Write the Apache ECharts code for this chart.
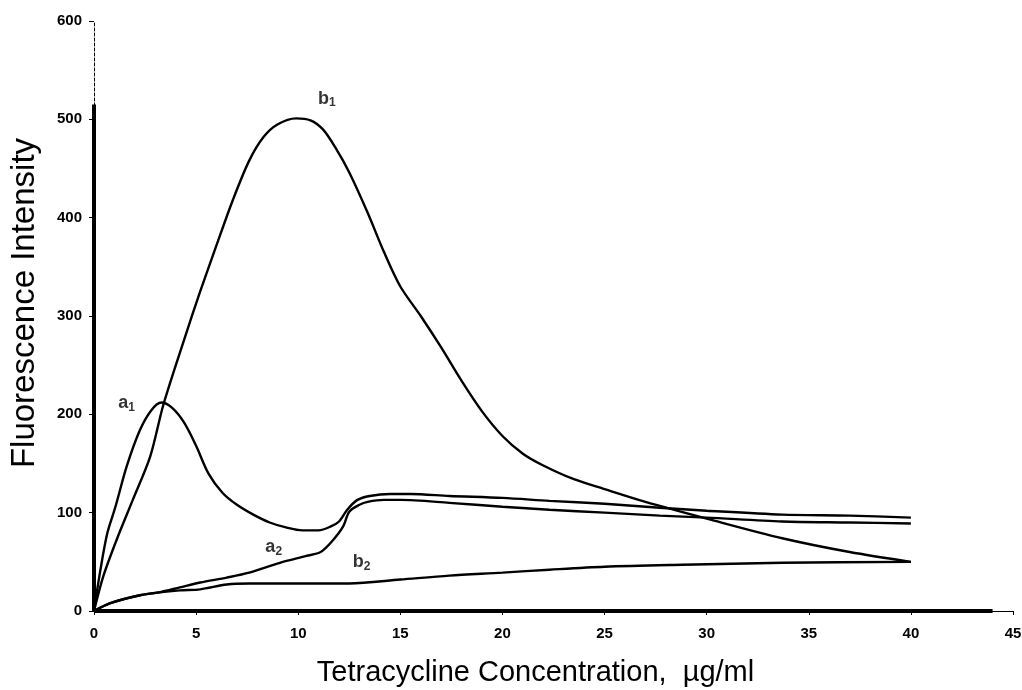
<!DOCTYPE html>
<html>
<head>
<meta charset="utf-8">
<script src="https://cdn.jsdelivr.net/npm/echarts@6/dist/echarts.min.js"></script>
<style>html,body{margin:0;padding:0;background:#fff}#c{width:1022px;height:690px}</style>
</head>
<body>
<div id="c"></div>
<script>
// ---- data ----
const xTicks = [0, 5, 10, 15, 20, 25, 30, 35, 40, 45];
const yTicks = [0, 100, 200, 300, 400, 500, 600];

const a1X = [0, 0.3, 0.65, 1.05, 1.6, 2.25, 2.8, 3.3, 3.8, 4.4, 5.0, 5.6, 6.3, 7.0, 7.8, 8.6, 9.4, 10.2, 11.0, 11.6, 12.0, 12.4, 12.9, 13.5, 14.5, 15.5, 17.4, 20, 22.3, 25, 27.7, 30, 33.7, 37, 40];
const a1Y = [0, 40, 79, 106, 147, 184, 204, 212, 207, 192, 168, 140, 120, 108, 98, 90, 85, 82, 82, 86, 91, 103, 113, 117, 119, 119, 117, 115, 112, 109, 105, 102, 98, 97, 95];

const a2X = [0, 0.8, 2.25, 3.2, 4.2, 5.2, 6.5, 7.6, 9.1, 10.4, 11.1, 11.7, 12.2, 12.5, 13.0, 13.4, 14.2, 15, 17.4, 20, 22.3, 25, 27.7, 30, 33.7, 37, 40];
const a2Y = [0, 8, 16, 19, 24, 29, 34, 39, 49, 56, 60, 72, 86, 101, 108, 111, 113, 113, 110, 106, 103, 100, 97, 95, 91, 90, 89];

const b1X = [0, 0.45, 1.1, 1.9, 2.75, 3.4, 4.4, 5.2, 6.0, 6.8, 7.6, 8.3, 9.0, 9.9, 10.6, 11.2, 11.8, 12.5, 13.4, 14.2, 15.0, 16.0, 17.0, 18.0, 19.0, 20.0, 21.0, 22.0, 23.5, 25.0, 27.0, 30.0, 33.7, 37, 40];
const b1Y = [0, 35, 72, 113, 157, 210, 275, 325, 372, 418, 458, 482, 495, 501, 499, 490, 472, 446, 405, 365, 330, 300, 268, 234, 203, 178, 160, 148, 134, 124, 111, 94, 74, 60, 50];

const b2X = [0, 0.8, 2.25, 3.2, 4.2, 5.2, 6.5, 7.6, 10, 12.5, 15, 17.4, 20, 22.3, 25, 28.8, 33.7, 40];
const b2Y = [0, 8, 16, 19, 21, 22, 27, 28, 28, 28, 32, 36, 39, 42, 45, 47, 49, 50];

// curve labels: [text, subscript, x, y]
const curveLabels = [
  ['a', '1', 1.6, 211],
  ['b', '1', 11.4, 521],
  ['a', '2', 8.8, 65],
  ['b', '2', 13.1, 50]
];
// extent of the heavy part of the axis lines
const yAxisHeavyTop = 515;
const xAxisHeavyEnd = 44;

const xName = 'Tetracycline Concentration,  \u00b5g/ml';
const yName = 'Fluorescence Intensity';

// ---- chart ----
const zip = (xs, ys) => xs.map((x, i) => [x, ys[i]]);
const lineSeries = (name, xs, ys) => ({
  name, type: 'line', data: zip(xs, ys), smooth: 0.3, showSymbol: false,
  lineStyle: { color: '#000', width: 2.4 }, z: 3
});

const chart = echarts.init(document.getElementById('c'), null, { renderer: 'canvas' });
const font = '"Liberation Sans", Arial, sans-serif';

chart.setOption({
  animation: false,
  backgroundColor: '#fff',
  grid: { left: 94, right: 9, top: 21, bottom: 79, containLabel: false, outerBoundsMode: 'none' },
  xAxis: {
    type: 'value', min: xTicks[0], max: xTicks[xTicks.length - 1], interval: xTicks[1] - xTicks[0],
    name: xName, nameLocation: 'middle', nameGap: 47,
    nameTextStyle: { fontFamily: font, fontSize: 29, color: '#000', padding: [0, 36, 0, 0] },
    axisLine: { lineStyle: { color: '#000', width: 1 } },
    axisTick: { show: true, length: 4, lineStyle: { color: '#000', width: 1 } },
    axisLabel: { color: '#000', fontFamily: font, fontWeight: 'bold', fontSize: 15, margin: 15 },
    splitLine: { show: false }
  },
  yAxis: {
    type: 'value', min: yTicks[0], max: yTicks[yTicks.length - 1], interval: yTicks[1] - yTicks[0],
    name: yName, nameLocation: 'middle', nameGap: 53,
    nameTextStyle: { fontFamily: font, fontSize: 33, color: '#000', padding: [0, 0, 0, 26] },
    axisLine: { lineStyle: { color: '#000', width: 1, type: [3, 2] } },
    axisTick: { show: true, length: 5, lineStyle: { color: '#000', width: 1 } },
    axisLabel: { color: '#000', fontFamily: font, fontWeight: 'bold', fontSize: 15, margin: 12 },
    splitLine: { show: false }
  },
  series: [
    Object.assign(lineSeries('a1', a1X, a1Y), {
      markLine: {
        silent: true, symbol: 'none', label: { show: false },
        lineStyle: { color: '#000', width: 4, type: 'solid' },
        data: [
          [{ coord: [0, 0] }, { coord: [0, yAxisHeavyTop] }],
          [{ coord: [0, 0] }, { coord: [xAxisHeavyEnd, 0] }]
        ]
      }
    }),
    lineSeries('a2', a2X, a2Y),
    lineSeries('b1', b1X, b1Y),
    lineSeries('b2', b2X, b2Y),
    {
      type: 'scatter', symbolSize: 0, z: 5, silent: true,
      data: curveLabels.map(l => ({ value: [l[2], l[3]], name: l[0], sub: l[1] })),
      label: {
        show: true, position: 'inside',
        formatter: p => '{m|' + p.data.name + '}{s|' + p.data.sub + '}',
        rich: {
          m: { fontFamily: font, fontSize: 18, fontWeight: 'bold', color: '#000' },
          s: { fontFamily: font, fontSize: 12, fontWeight: 'bold', color: '#000', padding: [9, 0, 0, 0] }
        }
      }
    }
  ]
});
</script>
</body>
</html>
